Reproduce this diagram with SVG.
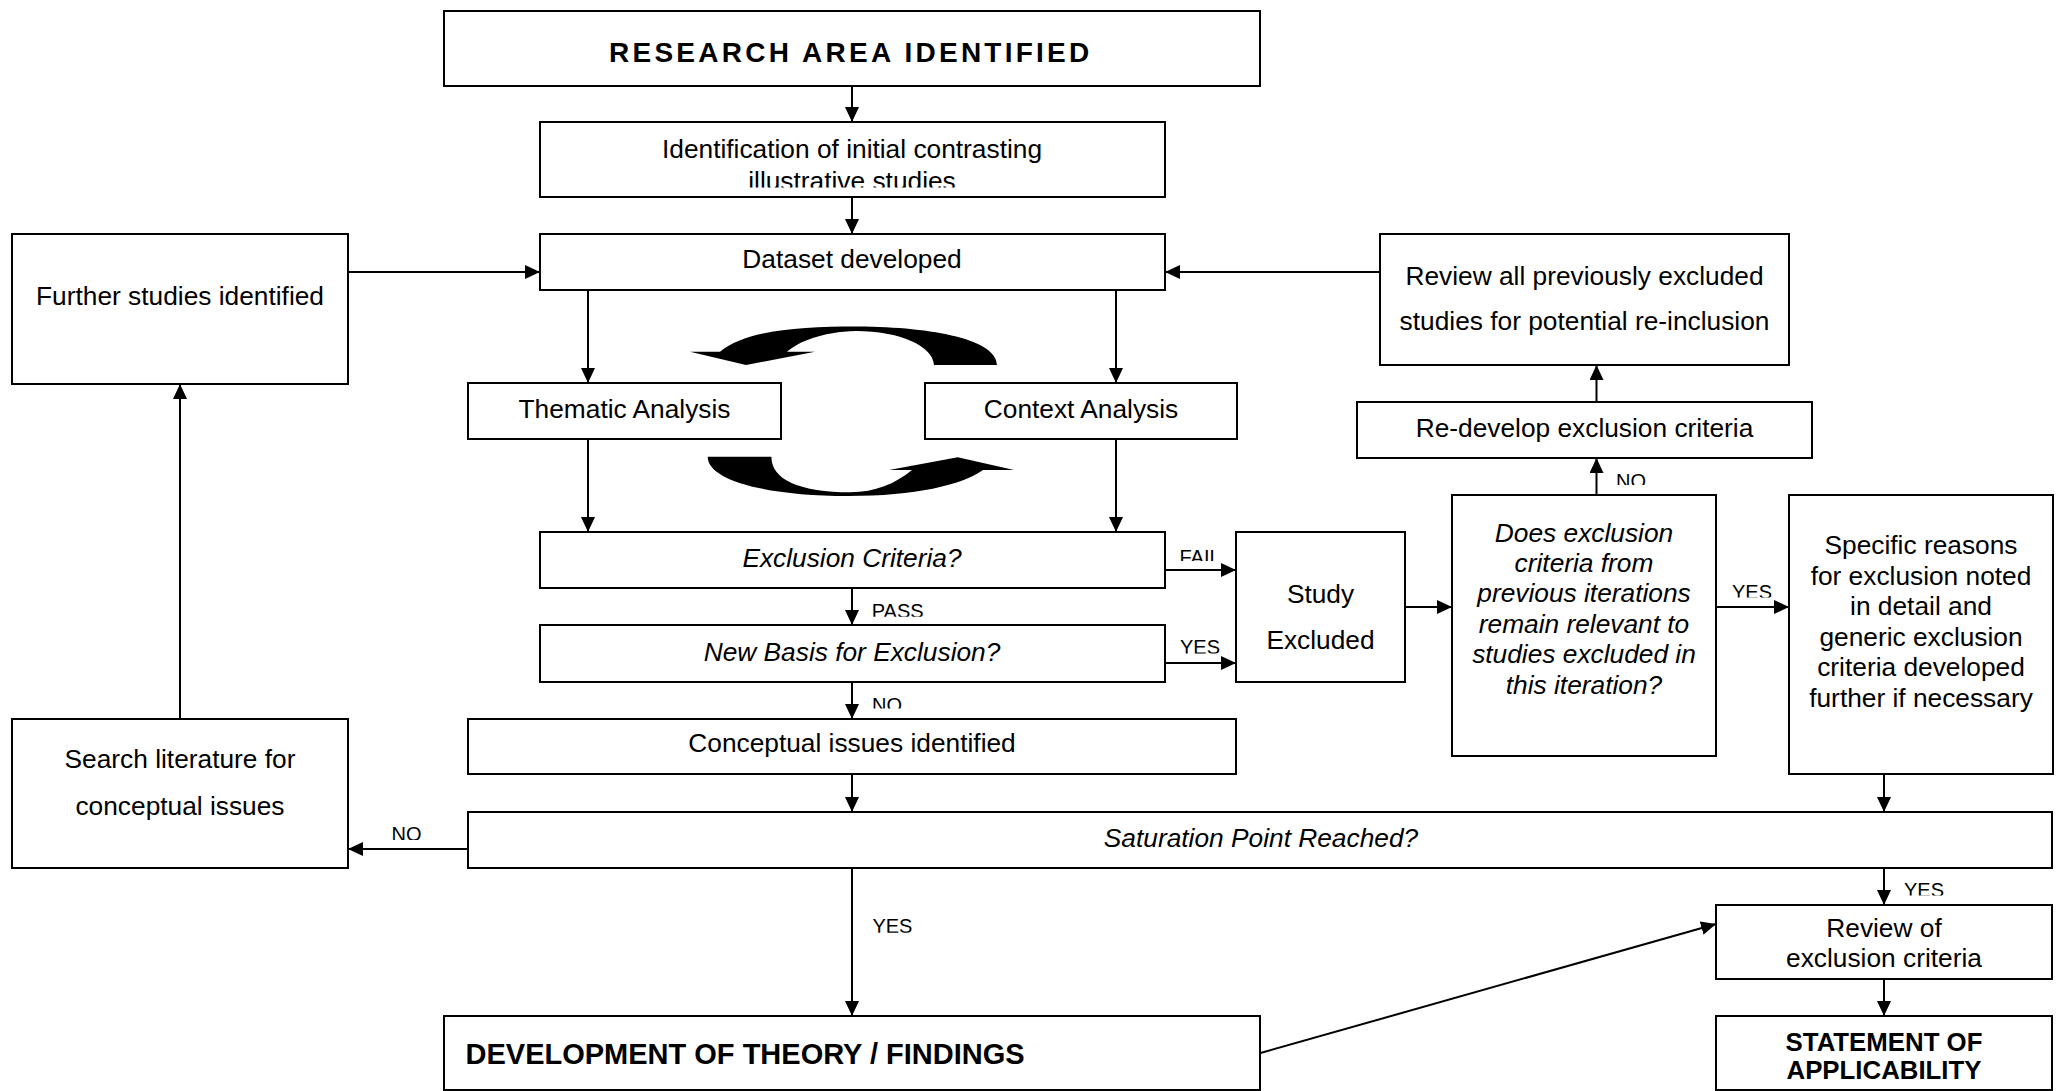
<svg xmlns="http://www.w3.org/2000/svg" width="2061" height="1091" viewBox="0 0 2061 1091">
<style>
.box{fill:#fff;stroke:#000;stroke-width:2}
.t{font-family:"Liberation Sans",Arial,sans-serif;font-size:26.3px;fill:#000}
.c{text-anchor:middle}
.i{font-style:italic}
.b{font-weight:bold}
.lbl{font-family:"Liberation Sans",Arial,sans-serif;font-size:20px;fill:#000}
.ln{fill:none;stroke:#000;stroke-width:2}
</style>
<defs>
<marker id="ah" markerUnits="userSpaceOnUse" markerWidth="16" markerHeight="15" refX="15" refY="7" orient="auto" viewBox="0 0 16 15">
<path d="M0,0 L15,7 L0,14 Z" fill="#000"/>
</marker>
<clipPath id="cl2"><rect x="540" y="122" width="625" height="65.5"/></clipPath>
<clipPath id="cFail"><rect x="1170" y="540" width="60" height="21"/></clipPath>
<clipPath id="cPass"><rect x="865" y="595" width="70" height="21.8"/></clipPath>
<clipPath id="cYes1"><rect x="1170" y="630" width="60" height="23.5"/></clipPath>
<clipPath id="cNo1"><rect x="865" y="690" width="60" height="18.5"/></clipPath>
<clipPath id="cNo2"><rect x="1610" y="465" width="60" height="20"/></clipPath>
<clipPath id="cYes2"><rect x="1725" y="575" width="60" height="22.5"/></clipPath>
<clipPath id="cNo3"><rect x="385" y="818" width="60" height="22"/></clipPath>
<clipPath id="cYes3"><rect x="865" y="910" width="60" height="22.8"/></clipPath>
<clipPath id="cYes4"><rect x="1895" y="875" width="60" height="20.5"/></clipPath>
</defs>

<g id="connectors">
<line class="ln" x1="852" y1="86" x2="852" y2="122" marker-end="url(#ah)"/>
<line class="ln" x1="852" y1="197" x2="852" y2="234" marker-end="url(#ah)"/>
<line class="ln" x1="348" y1="272" x2="540" y2="272" marker-end="url(#ah)"/>
<line class="ln" x1="1380" y1="272" x2="1165" y2="272" marker-end="url(#ah)"/>
<line class="ln" x1="588" y1="290" x2="588" y2="383" marker-end="url(#ah)"/>
<line class="ln" x1="1116" y1="290" x2="1116" y2="383" marker-end="url(#ah)"/>
<line class="ln" x1="588" y1="439" x2="588" y2="532" marker-end="url(#ah)"/>
<line class="ln" x1="1116" y1="439" x2="1116" y2="532" marker-end="url(#ah)"/>
<line class="ln" x1="1165" y1="570" x2="1236" y2="570" marker-end="url(#ah)"/>
<line class="ln" x1="852" y1="588" x2="852" y2="625" marker-end="url(#ah)"/>
<line class="ln" x1="1165" y1="663" x2="1236" y2="663" marker-end="url(#ah)"/>
<line class="ln" x1="852" y1="682" x2="852" y2="719" marker-end="url(#ah)"/>
<line class="ln" x1="1405" y1="607" x2="1452" y2="607" marker-end="url(#ah)"/>
<line class="ln" x1="1716" y1="607" x2="1789" y2="607" marker-end="url(#ah)"/>
<line class="ln" x1="1596.5" y1="495" x2="1596.5" y2="458" marker-end="url(#ah)"/>
<line class="ln" x1="1596.5" y1="402" x2="1596.5" y2="365" marker-end="url(#ah)"/>
<line class="ln" x1="852" y1="774" x2="852" y2="812" marker-end="url(#ah)"/>
<line class="ln" x1="1884" y1="774" x2="1884" y2="812" marker-end="url(#ah)"/>
<line class="ln" x1="468" y1="849" x2="348" y2="849" marker-end="url(#ah)"/>
<line class="ln" x1="180" y1="719" x2="180" y2="384" marker-end="url(#ah)"/>
<line class="ln" x1="852" y1="868" x2="852" y2="1016" marker-end="url(#ah)"/>
<line class="ln" x1="1884" y1="868" x2="1884" y2="905" marker-end="url(#ah)"/>
<line class="ln" x1="1884" y1="979" x2="1884" y2="1016" marker-end="url(#ah)"/>
<line class="ln" x1="1260.5" y1="1053" x2="1716" y2="924" marker-end="url(#ah)"/>
<path id="cycle-top" d="M690,351.7 L720,351.7 C745,331 795,326.5 858,326.5 C935,327 997,340 997,365 L934,365 C933,346 900,331 856,331 C822,332 800,341 787,351.7 L815,351.7 L746,365 Z" fill="#000"/>
<path id="cycle-bottom" d="M707.7,456.7 C707.7,480 765,496 848,496 C915,496 962,485 983,470 L1014,470 L957.7,457.3 L889,470 L912,470 C895,484 875,492 850.5,492.3 C800,492 771.4,480 771.4,456.7 Z" fill="#000"/>
<g clip-path="url(#cFail)"><text class="lbl" x="1179.5" y="564">FAIL</text></g>
<g clip-path="url(#cPass)"><text class="lbl" x="871.7" y="617.6">PASS</text></g>
<g clip-path="url(#cYes1)"><text class="lbl" x="1180" y="653.6">YES</text></g>
<g clip-path="url(#cNo1)"><text class="lbl" x="872" y="711.6">NO</text></g>
<g clip-path="url(#cNo2)"><text class="lbl" x="1616" y="487.6">NO</text></g>
<g clip-path="url(#cYes2)"><text class="lbl" x="1732" y="598.6">YES</text></g>
<g clip-path="url(#cNo3)"><text class="lbl" x="391.6" y="841">NO</text></g>
<g clip-path="url(#cYes3)"><text class="lbl" x="872.4" y="933.3">YES</text></g>
<g clip-path="url(#cYes4)"><text class="lbl" x="1904" y="897">YES</text></g>
</g>

<g id="research-area">
<rect class="box" x="444" y="11" width="816" height="75"/>
<text class="t b" x="609" y="62" style="font-size:28px;letter-spacing:3.25px">RESEARCH AREA IDENTIFIED</text>
</g>
<g id="initial-studies">
<rect class="box" x="540" y="122" width="625" height="75"/>
<g clip-path="url(#cl2)">
<text class="t c" x="852" y="158.3">Identification of initial contrasting</text>
<text class="t c" x="852" y="190">illustrative studies</text>
</g>
</g>
<g id="dataset">
<rect class="box" x="540" y="234" width="625" height="56"/>
<text class="t c" x="852" y="268">Dataset developed</text>
</g>
<g id="further-studies">
<rect class="box" x="12" y="234" width="336" height="150"/>
<text class="t c" x="180" y="305">Further studies identified</text>
</g>
<g id="review-all">
<rect class="box" x="1380" y="234" width="409" height="131"/>
<text class="t c" x="1584.5" y="285">Review all previously excluded</text>
<text class="t c" x="1584.5" y="330">studies for potential re-inclusion</text>
</g>
<g id="thematic">
<rect class="box" x="468" y="383" width="313" height="56"/>
<text class="t c" x="624.5" y="418">Thematic Analysis</text>
</g>
<g id="context">
<rect class="box" x="925" y="383" width="312" height="56"/>
<text class="t c" x="1081" y="418">Context Analysis</text>
</g>
<g id="redevelop">
<rect class="box" x="1357" y="402" width="455" height="56"/>
<text class="t c" x="1584.5" y="436.7">Re-develop exclusion criteria</text>
</g>
<g id="exclusion-criteria">
<rect class="box" x="540" y="532" width="625" height="56"/>
<text class="t c i" x="852" y="566.7">Exclusion Criteria?</text>
</g>
<g id="new-basis">
<rect class="box" x="540" y="625" width="625" height="57"/>
<text class="t c i" x="852" y="660.7">New Basis for Exclusion?</text>
</g>
<g id="study-excluded">
<rect class="box" x="1236" y="532" width="169" height="150"/>
<text class="t c" x="1320.5" y="603.3">Study</text>
<text class="t c" x="1320.5" y="649.3">Excluded</text>
</g>
<g id="does-exclusion">
<rect class="box" x="1452" y="495" width="264" height="261"/>
<text class="t c i" x="1584" y="541.7">Does exclusion</text>
<text class="t c i" x="1584" y="572">criteria from</text>
<text class="t c i" x="1584" y="602.4">previous iterations</text>
<text class="t c i" x="1584" y="632.8">remain relevant to</text>
<text class="t c i" x="1584" y="663.2">studies excluded in</text>
<text class="t c i" x="1584" y="693.6">this iteration?</text>
</g>
<g id="specific-reasons">
<rect class="box" x="1789" y="495" width="264" height="279"/>
<text class="t c" x="1921" y="554">Specific reasons</text>
<text class="t c" x="1921" y="584.5">for exclusion noted</text>
<text class="t c" x="1921" y="615">in detail and</text>
<text class="t c" x="1921" y="645.5">generic exclusion</text>
<text class="t c" x="1921" y="676">criteria developed</text>
<text class="t c" x="1921" y="706.5">further if necessary</text>
</g>
<g id="search-literature">
<rect class="box" x="12" y="719" width="336" height="149"/>
<text class="t c" x="180" y="768.3">Search literature for</text>
<text class="t c" x="180" y="815">conceptual issues</text>
</g>
<g id="conceptual">
<rect class="box" x="468" y="719" width="768" height="55"/>
<text class="t c" x="852" y="751.7">Conceptual issues identified</text>
</g>
<g id="saturation">
<rect class="box" x="468" y="812" width="1584" height="56"/>
<text class="t c i" x="1261" y="846.7">Saturation Point Reached?</text>
</g>
<g id="review-of">
<rect class="box" x="1716" y="905" width="336" height="74"/>
<text class="t c" x="1884" y="937.3">Review of</text>
<text class="t c" x="1884" y="966.7">exclusion criteria</text>
</g>
<g id="development">
<rect class="box" x="444" y="1016" width="816" height="74"/>
<text class="t b" x="465.5" y="1064" style="font-size:29px">DEVELOPMENT OF THEORY / FINDINGS</text>
</g>
<g id="statement">
<rect class="box" x="1716" y="1016" width="336" height="74"/>
<text class="t c b" x="1884" y="1050.7" style="font-size:25.8px">STATEMENT OF</text>
<text class="t c b" x="1884" y="1079.3" style="font-size:25.8px">APPLICABILITY</text>
</g>
</svg>
